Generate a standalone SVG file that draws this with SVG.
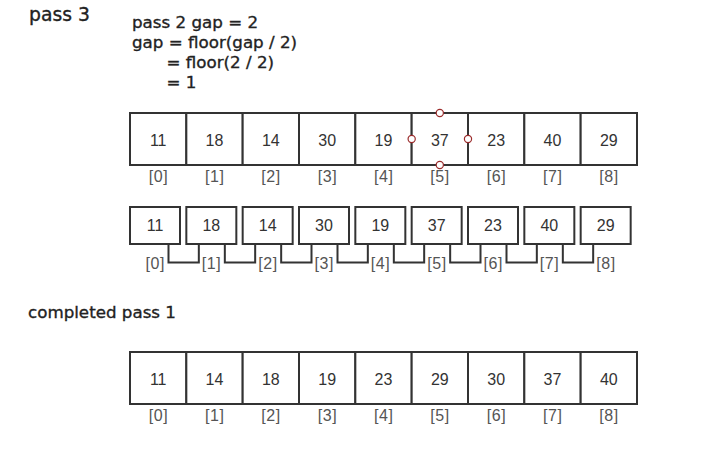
<svg xmlns="http://www.w3.org/2000/svg" width="704" height="450" viewBox="0 0 704 450">
<style>
.hd{font-family:"DejaVu Sans","Liberation Sans",sans-serif;font-size:16.7px;fill:#222;stroke:#222;stroke-width:0.35}
.ttl{font-family:"DejaVu Sans","Liberation Sans",sans-serif;font-size:18.8px;fill:#222;stroke:#222;stroke-width:0.35}
.cell{fill:#fff;stroke:#333;stroke-width:2}
.num{font-family:"Liberation Sans",Arial,sans-serif;font-size:16px;fill:#333;text-anchor:middle}
.idx{font-family:"Liberation Sans",Arial,sans-serif;font-size:16px;fill:#555;text-anchor:middle;letter-spacing:0.6px}
.conn{fill:none;stroke:#333;stroke-width:2}
.mark{fill:#fff;stroke:#9b2c2c;stroke-width:1.2}
</style>
<rect width="704" height="450" fill="#fff"/>
<g id="titles">
<text class="ttl" x="29" y="21">pass 3</text>
<text class="hd" x="132" y="27.5">pass 2 gap = 2</text>
<text class="hd" x="132" y="47.5">gap = floor(gap / 2)</text>
<text class="hd" x="166.5" y="67.5">= floor(2 / 2)</text>
<text class="hd" x="166.5" y="88">= 1</text>
<text class="hd" x="28" y="318">completed pass 1</text>
</g>
<g id="row1">
<g id="r1c0"><rect class="cell" x="130" y="113" width="56.33" height="52"/><text class="num" x="158.2" y="145.5">11</text><text class="idx" x="158.5" y="181.5">[0]</text></g>
<g id="r1c1"><rect class="cell" x="186.33" y="113" width="56.33" height="52"/><text class="num" x="214.5" y="145.5">18</text><text class="idx" x="214.8" y="181.5">[1]</text></g>
<g id="r1c2"><rect class="cell" x="242.67" y="113" width="56.33" height="52"/><text class="num" x="270.8" y="145.5">14</text><text class="idx" x="271.1" y="181.5">[2]</text></g>
<g id="r1c3"><rect class="cell" x="299" y="113" width="56.33" height="52"/><text class="num" x="327.2" y="145.5">30</text><text class="idx" x="327.5" y="181.5">[3]</text></g>
<g id="r1c4"><rect class="cell" x="355.33" y="113" width="56.33" height="52"/><text class="num" x="383.5" y="145.5">19</text><text class="idx" x="383.8" y="181.5">[4]</text></g>
<g id="r1c5"><rect class="cell" x="411.67" y="113" width="56.33" height="52"/><text class="num" x="439.8" y="145.5">37</text><text class="idx" x="440.1" y="181.5">[5]</text></g>
<g id="r1c6"><rect class="cell" x="468" y="113" width="56.33" height="52"/><text class="num" x="496.2" y="145.5">23</text><text class="idx" x="496.5" y="181.5">[6]</text></g>
<g id="r1c7"><rect class="cell" x="524.33" y="113" width="56.33" height="52"/><text class="num" x="552.5" y="145.5">40</text><text class="idx" x="552.8" y="181.5">[7]</text></g>
<g id="r1c8"><rect class="cell" x="580.67" y="113" width="56.33" height="52"/><text class="num" x="608.8" y="145.5">29</text><text class="idx" x="609.1" y="181.5">[8]</text></g>
<g id="markers">
<circle class="mark" cx="439.8" cy="113" r="3.6"/>
<circle class="mark" cx="439.8" cy="165" r="3.6"/>
<circle class="mark" cx="411.67" cy="139" r="3.6"/>
<circle class="mark" cx="468" cy="139" r="3.6"/>
</g>
</g>
<g id="connectors">
<path class="conn" d="M168.5 244V262.5H198.83V244"/>
<path class="conn" d="M224.83 244V262.5H255.17V244"/>
<path class="conn" d="M281.17 244V262.5H311.5V244"/>
<path class="conn" d="M337.5 244V262.5H367.83V244"/>
<path class="conn" d="M393.83 244V262.5H424.17V244"/>
<path class="conn" d="M450.17 244V262.5H480.5V244"/>
<path class="conn" d="M506.5 244V262.5H536.83V244"/>
<path class="conn" d="M562.83 244V262.5H593.17V244"/>
</g>
<g id="row2">
<g id="r2c0"><rect class="cell" x="130" y="207" width="50" height="37"/><text class="num" x="155" y="231">11</text><text class="idx" x="155.3" y="268.5">[0]</text></g>
<g id="r2c1"><rect class="cell" x="186.33" y="207" width="50" height="37"/><text class="num" x="211.3" y="231">18</text><text class="idx" x="211.6" y="268.5">[1]</text></g>
<g id="r2c2"><rect class="cell" x="242.67" y="207" width="50" height="37"/><text class="num" x="267.7" y="231">14</text><text class="idx" x="268" y="268.5">[2]</text></g>
<g id="r2c3"><rect class="cell" x="299" y="207" width="50" height="37"/><text class="num" x="324" y="231">30</text><text class="idx" x="324.3" y="268.5">[3]</text></g>
<g id="r2c4"><rect class="cell" x="355.33" y="207" width="50" height="37"/><text class="num" x="380.3" y="231">19</text><text class="idx" x="380.6" y="268.5">[4]</text></g>
<g id="r2c5"><rect class="cell" x="411.67" y="207" width="50" height="37"/><text class="num" x="436.7" y="231">37</text><text class="idx" x="437" y="268.5">[5]</text></g>
<g id="r2c6"><rect class="cell" x="468" y="207" width="50" height="37"/><text class="num" x="493" y="231">23</text><text class="idx" x="493.3" y="268.5">[6]</text></g>
<g id="r2c7"><rect class="cell" x="524.33" y="207" width="50" height="37"/><text class="num" x="549.3" y="231">40</text><text class="idx" x="549.6" y="268.5">[7]</text></g>
<g id="r2c8"><rect class="cell" x="580.67" y="207" width="50" height="37"/><text class="num" x="605.7" y="231">29</text><text class="idx" x="606" y="268.5">[8]</text></g>
</g>
<g id="row3">
<g id="r3c0"><rect class="cell" x="130" y="352" width="56.33" height="52"/><text class="num" x="158.2" y="384.5">11</text><text class="idx" x="158.5" y="420.5">[0]</text></g>
<g id="r3c1"><rect class="cell" x="186.33" y="352" width="56.33" height="52"/><text class="num" x="214.5" y="384.5">14</text><text class="idx" x="214.8" y="420.5">[1]</text></g>
<g id="r3c2"><rect class="cell" x="242.67" y="352" width="56.33" height="52"/><text class="num" x="270.8" y="384.5">18</text><text class="idx" x="271.1" y="420.5">[2]</text></g>
<g id="r3c3"><rect class="cell" x="299" y="352" width="56.33" height="52"/><text class="num" x="327.2" y="384.5">19</text><text class="idx" x="327.5" y="420.5">[3]</text></g>
<g id="r3c4"><rect class="cell" x="355.33" y="352" width="56.33" height="52"/><text class="num" x="383.5" y="384.5">23</text><text class="idx" x="383.8" y="420.5">[4]</text></g>
<g id="r3c5"><rect class="cell" x="411.67" y="352" width="56.33" height="52"/><text class="num" x="439.8" y="384.5">29</text><text class="idx" x="440.1" y="420.5">[5]</text></g>
<g id="r3c6"><rect class="cell" x="468" y="352" width="56.33" height="52"/><text class="num" x="496.2" y="384.5">30</text><text class="idx" x="496.5" y="420.5">[6]</text></g>
<g id="r3c7"><rect class="cell" x="524.33" y="352" width="56.33" height="52"/><text class="num" x="552.5" y="384.5">37</text><text class="idx" x="552.8" y="420.5">[7]</text></g>
<g id="r3c8"><rect class="cell" x="580.67" y="352" width="56.33" height="52"/><text class="num" x="608.8" y="384.5">40</text><text class="idx" x="609.1" y="420.5">[8]</text></g>
</g>
</svg>
